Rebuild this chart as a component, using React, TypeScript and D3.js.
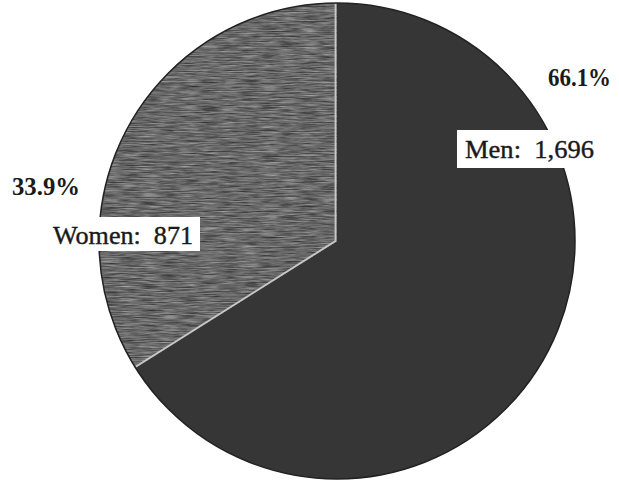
import React from "react";
import * as d3 from "d3";

const categories = ["Women", "Men"];
const values = [871, 1696];
const valueLabels = ["871", "1,696"];
const percentLabels = ["33.9%", "66.1%"];

const W = 619;
const H = 480;
const cx = 337;
const cy = 241;
const R = 238;

const fills = ["#676767", "#363636"];

// label layout (box + text anchors)
const labelLayout = [
  { pctX: 12, pctY: 195, pctW: 68, boxX: 47, boxY: 217, boxW: 153, boxH: 34, txtX: 53, txtY: 244, txtW: 140 },
  { pctX: 548, pctY: 86, pctW: 63, boxX: 457, boxY: 130, boxW: 145, boxH: 38, txtX: 465, txtY: 158, txtW: 129 },
];

export default function App() {
  const total = d3.sum(values);
  const start = -2 * Math.PI * (values[0] / total);
  const pie = d3
    .pie<number>()
    .sort(null)
    .startAngle(start)
    .endAngle(start + 2 * Math.PI);
  const arcs = pie(values);
  const arc = d3.arc<d3.PieArcDatum<number>>().innerRadius(0).outerRadius(R);

  const a0 = arcs[0].startAngle;
  const a1 = arcs[0].endAngle;
  const p0 = [R * Math.sin(a0), -R * Math.cos(a0)];
  const p1 = [R * Math.sin(a1), -R * Math.cos(a1)];

  return (
    <svg
      width={W}
      height={H}
      style={{ position: "absolute", left: 0, top: 0, background: "#fff" }}
      fontFamily="'Liberation Serif', 'Times New Roman', serif"
    >
      <defs>
        <filter id="streaks" x="0" y="0" width="100%" height="100%" colorInterpolationFilters="sRGB">
          <feTurbulence type="fractalNoise" baseFrequency="0.05 0.8" numOctaves={3} seed={4} result="n" />
          <feColorMatrix
            in="n"
            type="matrix"
            values="0.55 0 0 0 0.135  0.55 0 0 0 0.135  0.55 0 0 0 0.135  0 0 0 0 1"
          />
        </filter>
        <clipPath id="womenClip">
          <path d={arc(arcs[0]) || ""} transform={`translate(${cx},${cy})`} />
        </clipPath>
      </defs>
      <g transform={`translate(${cx},${cy})`}>
        {arcs.map((a, i) => (
          <path key={categories[i]} d={arc(a) || ""} fill={fills[i]} stroke="none" />
        ))}
      </g>
      <g clipPath="url(#womenClip)">
        <rect x={cx - R} y={cy - R} width={R + 2} height={2 * R} filter="url(#streaks)" />
      </g>
      <g transform={`translate(${cx},${cy})`}>
        <path
          d={`M${p0[0]},${p0[1]}L0,0L${p1[0]},${p1[1]}`}
          fill="none"
          stroke="#c8c8c8"
          strokeWidth={1.8}
          transform="translate(-1.5,0)"
        />
        <circle r={R} fill="none" stroke="#222" strokeWidth={1.5} />
      </g>
      {labelLayout.map((l, i) => (
        <g key={categories[i]}>
          <text
            x={l.pctX}
            y={l.pctY}
            fontSize={26}
            fontWeight="bold"
            fill="#1a1a1a"
            textLength={l.pctW}
            lengthAdjust="spacingAndGlyphs"
          >
            {percentLabels[i]}
          </text>
          <rect x={l.boxX} y={l.boxY} width={l.boxW} height={l.boxH} fill="#fff" />
          <text
            x={l.txtX}
            y={l.txtY}
            fontSize={26}
            fill="#1a1a1a"
            stroke="#1a1a1a"
            strokeWidth={0.4}
            style={{ whiteSpace: "pre" }}
            textLength={l.txtW}
            lengthAdjust="spacingAndGlyphs"
          >
            {`${categories[i]}:  ${valueLabels[i]}`}
          </text>
        </g>
      ))}
    </svg>
  );
}
